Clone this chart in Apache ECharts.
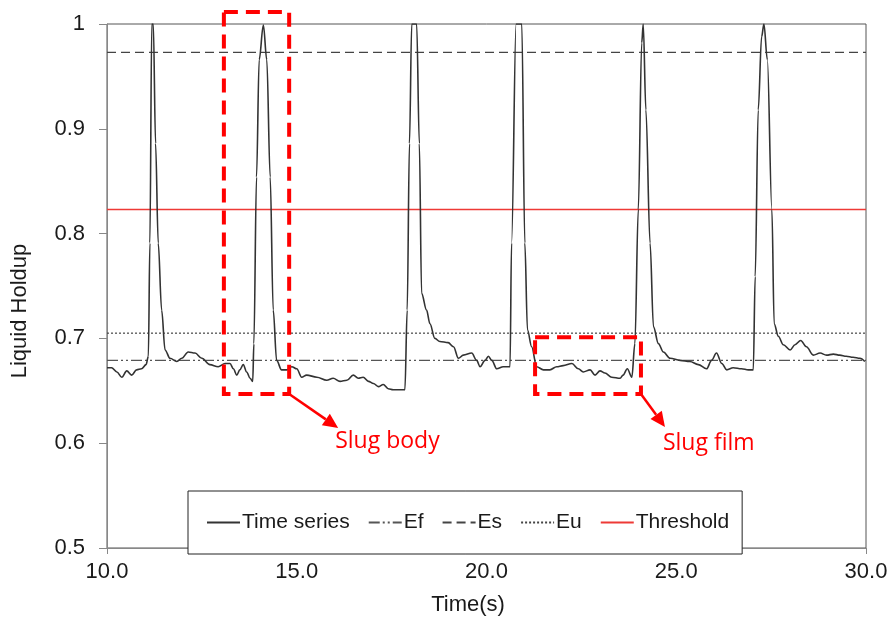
<!DOCTYPE html>
<html><head><meta charset="utf-8">
<script src="https://cdn.jsdelivr.net/npm/echarts@6/dist/echarts.min.js"></script>
<style>html,body{margin:0;padding:0;background:#fff}#c{width:891px;height:626px}</style>
</head><body><div id="c"></div>
<script>
// ---- data ----
const timeSec = [10.00,10.12,10.26,10.39,10.52,10.65,10.78,10.91,11.03,11.09,11.13,11.18,11.22,11.28,11.35,11.44,11.53,11.66,11.84,11.97,12.14,12.32,12.50,12.71,12.93,13.11,13.24,13.33,13.42,13.50,13.59,13.68,13.77,13.84,13.87,13.94,14.01,14.12,14.21,14.30,14.38,14.47,14.60,14.74,14.87,15.00,15.13,15.26,15.53,15.79,15.96,16.14,16.32,16.49,16.62,16.75,16.89,17.02,17.15,17.28,17.41,17.54,17.72,17.85,17.91,17.97,18.03,18.16,18.23,18.29,18.42,18.51,18.64,18.77,18.99,19.13,19.26,19.39,19.61,19.74,19.83,19.96,20.05,20.14,20.27,20.44,20.62,20.66,20.78,20.93,21.01,21.08,21.19,21.32,21.50,21.67,21.85,22.02,22.25,22.42,22.55,22.73,22.86,22.99,23.12,23.30,23.52,23.60,23.71,23.83,23.91,24.00,24.09,24.13,24.20,24.31,24.40,24.53,24.66,24.84,25.10,25.36,25.58,25.80,25.93,26.06,26.20,26.33,26.50,26.72,26.90,27.03,27.08,27.16,27.25,27.31,27.40,27.52,27.58,27.69,27.82,28.00,28.13,28.28,28.43,28.61,28.79,28.96,29.14,29.31,29.48,29.66,29.84,29.97];
const holdup = [0.672,0.672,0.668,0.663,0.669,0.665,0.670,0.671,0.675,0.683,0.791,1.000,1.000,0.886,0.791,0.727,0.689,0.681,0.678,0.681,0.687,0.686,0.681,0.675,0.673,0.676,0.676,0.671,0.665,0.670,0.675,0.668,0.662,0.659,0.695,0.854,0.966,0.999,0.966,0.854,0.727,0.679,0.670,0.670,0.673,0.671,0.663,0.665,0.663,0.660,0.662,0.659,0.660,0.665,0.662,0.663,0.659,0.657,0.654,0.656,0.652,0.651,0.651,0.651,0.727,0.886,1.000,1.000,0.886,0.743,0.727,0.714,0.700,0.697,0.696,0.692,0.681,0.684,0.686,0.679,0.673,0.679,0.683,0.679,0.671,0.673,0.673,0.791,1.000,1.000,0.791,0.708,0.692,0.673,0.670,0.670,0.673,0.674,0.676,0.671,0.668,0.670,0.665,0.669,0.667,0.663,0.662,0.665,0.671,0.663,0.695,0.823,0.982,1.000,0.918,0.791,0.711,0.695,0.687,0.681,0.679,0.678,0.675,0.671,0.679,0.686,0.676,0.670,0.672,0.671,0.670,0.670,0.759,0.918,0.988,1.000,0.966,0.823,0.714,0.702,0.694,0.689,0.694,0.698,0.692,0.684,0.686,0.684,0.685,0.684,0.683,0.682,0.681,0.678];
const levelNames = ['Ef','Es','Eu','Threshold'];
const levelValues = [0.679, 0.973, 0.705, 0.823];
const xRange = [10, 30];
const yTicks = [0.5, 0.6, 0.7, 0.8, 0.9, 1];
const boxBody = {t: [13.08, 14.80], v: [1.0115, 0.647]};
const boxFilm = {t: [21.28, 24.07], v: [0.701, 0.647]};
const noteLabels = ['Slug body', 'Slug film'];

const chart = echarts.init(document.getElementById('c'));
const font = '"Liberation Sans", Arial, sans-serif';
const levelStyles = {
  Ef: {color:'#555555', type:[11,3,2,3,2,3], width:1.2},
  Es: {color:'#444444', type:[9,5], width:1.3},
  Eu: {color:'#444444', type:[2,2], width:1.2},
  Threshold: {color:'#ee3a36', type:'solid', width:1.4}
};
const series = [{
  name:'Time series', type:'line', symbol:'none',
  data: timeSec.map((t,i)=>[t, holdup[i]]),
  smooth:0.35, smoothMonotone:'x',
  lineStyle:{color:'#333333', width:1.6}, itemStyle:{color:'#333333'}, z:5
}];
levelNames.forEach((n,i)=>{
  series.push({name:n, type:'line', symbol:'none', silent:true,
    data:[[xRange[0], levelValues[i]],[xRange[1], levelValues[i]]],
    lineStyle:levelStyles[n], itemStyle:{color:levelStyles[n].color}, z:3});
});

chart.setOption({
  animation:false,
  grid:{left:107, right:25, top:24, bottom:78, show:true, borderColor:'#555', borderWidth:1},
  legend:{
    data:['Time series','Ef','Es','Eu','Threshold'],
    left:188, top:491,
    padding:[21,13,21,18], itemGap:18, itemWidth:33, itemHeight:14,
    borderColor:'#222', borderWidth:1, backgroundColor:'#fff',
    itemStyle:{opacity:0},
    textStyle:{fontFamily:font, fontSize:21, color:'#1a1a1a', padding:[0,0,0,-3]}
  },
  xAxis:{type:'value', min:xRange[0], max:xRange[1], interval:5,
    name:'Time(s)', nameLocation:'middle', nameGap:46,
    nameTextStyle:{fontFamily:font, fontSize:22, color:'#1a1a1a', padding:[0,37,0,0]},
    axisLine:{lineStyle:{color:'#888'}}, axisTick:{length:6, lineStyle:{color:'#888'}},
    splitLine:{show:false},
    axisLabel:{fontFamily:font, fontSize:22, color:'#1a1a1a', margin:13, formatter:v=>v.toFixed(1)}},
  yAxis:{type:'value', min:yTicks[0], max:yTicks[yTicks.length-1], interval:0.1,
    name:'Liquid Holdup', nameLocation:'middle', nameGap:76,
    nameTextStyle:{fontFamily:font, fontSize:22, color:'#1a1a1a', padding:[0,50,0,0]},
    axisLine:{show:true, lineStyle:{color:'#888'}}, axisTick:{show:true, length:8, lineStyle:{color:'#888'}},
    splitLine:{show:false},
    axisLabel:{fontFamily:font, fontSize:22, color:'#1a1a1a', margin:22,
      formatter:v=>(Math.abs(v-1)<1e-9?'1':v.toFixed(1))}},
  series: series
});

function drawNotes(){
  const g=[];
  const arrowVec = [[49,34],[24,33]];
  const textOff = [[-3,14],[-2,17]];
  [boxBody, boxFilm].forEach((b,i)=>{
    const p1 = chart.convertToPixel({gridIndex:0}, [b.t[0], b.v[0]]);
    const p2 = chart.convertToPixel({gridIndex:0}, [b.t[1], b.v[1]]);
    g.push({type:'rect', shape:{x:p1[0], y:p1[1], width:p2[0]-p1[0], height:p2[1]-p1[1]},
      style:{fill:'none', stroke:'#ff0000', lineWidth:4, lineDash:[14,8]}, z:20});
    const ax = p2[0], ay = p2[1];
    const ex = ax+arrowVec[i][0], ey = ay+arrowVec[i][1];
    const ang = Math.atan2(ey-ay, ex-ax);
    const h=15, w=7;
    const bx = ex - h*Math.cos(ang), by = ey - h*Math.sin(ang);
    g.push({type:'line', shape:{x1:ax, y1:ay, x2:bx, y2:by}, style:{stroke:'#ff0000', lineWidth:2.5}, z:20});
    g.push({type:'polygon', shape:{points:[[ex,ey],[bx - w*Math.sin(ang), by + w*Math.cos(ang)],[bx + w*Math.sin(ang), by - w*Math.cos(ang)]]},
      style:{fill:'#ff0000'}, z:20});
    g.push({type:'text', x: ex+textOff[i][0], y: ey+textOff[i][1],
      style:{text:noteLabels[i], fill:'#ff0000', verticalAlign:'middle', font:'23px "Open Sans", "Noto Sans", sans-serif'}, z:20});
  });
  chart.setOption({graphic:g});
}
drawNotes();
</script></body></html>
